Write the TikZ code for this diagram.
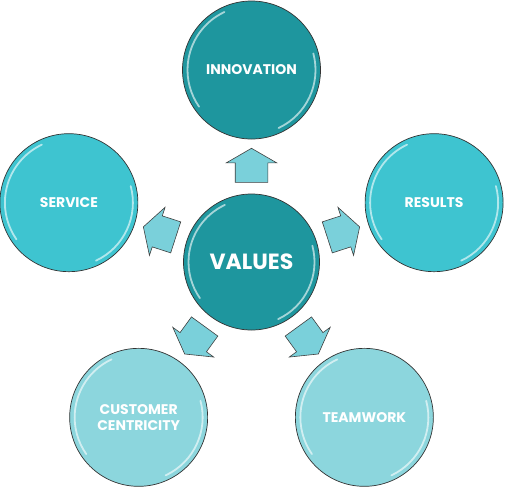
\documentclass[tikz,border=0pt]{standalone}
\usepackage{fontspec}
\setmainfont{Poppins}
\usetikzlibrary{shapes.arrows}
\definecolor{tealdark}{RGB}{30,150,158}
\definecolor{tealmid}{RGB}{62,196,208}
\definecolor{teallight}{RGB}{140,214,221}
\definecolor{tealarrow}{RGB}{122,208,218}
\newcommand{\gloss}[2] {
    \draw[white,opacity=0.6,line width=1.8pt,line cap=round] ([shift={(115:#2)}]#1.center) arc (115:215:#2);
    \draw[white,opacity=0.6,line width=1.8pt,line cap=round] ([shift={(-65:#2)}]#1.center) arc (-65:15:#2);
}
\newcommand{\bubble}[4] {
    \node[bubble,fill={#3}] (#1) at ([shift={(#2:192)}]ctr) {#4};
    \gloss{#1}{64}
}

\begin{document}
\begin{tikzpicture}[x=1pt,y=1pt,
        bubble/.style={
            circle,
            draw=black!80,
            line width=0.7pt,
            minimum size=138pt,
            inner sep=0pt,
            text=white,
            align=center,
            font=\bfseries\fontsize{14}{16}\selectfont
        },
        varrow/.style={
            single arrow,
            draw=black!75,
            line width=0.6pt,
            fill=tealarrow,
            minimum height=34pt,
            minimum width=50pt,
            single arrow head extend=9pt,
            single arrow tip angle=120,
            inner xsep=0pt,
            inner ysep=16pt
        }]
    \useasboundingbox (0,0) rectangle (508,-491);
    \coordinate (ctr) at (251.5,-262);
    \node[bubble,minimum size=136pt,fill=tealdark,font=\bfseries\fontsize{22}{24}\selectfont] (values) at (ctr) {VALUES};
    \gloss{values}{63}
    \bubble{innovation}{90}{tealdark}{INNOVATION}
    \bubble{results}{18}{tealmid}{RESULTS}
    \bubble{teamwork}{-54}{teallight}{TEAMWORK}
    \bubble{customer}{-126}{teallight}{CUSTOMER\\CENTRICITY}
    \bubble{service}{162}{tealmid}{SERVICE}
    \foreach \a/\n in {90/up,18/right,-54/lowright,-126/lowleft,162/left}
        \node[varrow,rotate=\a] (arrow-\n) at ([shift={(\a:92)}]ctr) {};
\end{tikzpicture}
\end{document}
